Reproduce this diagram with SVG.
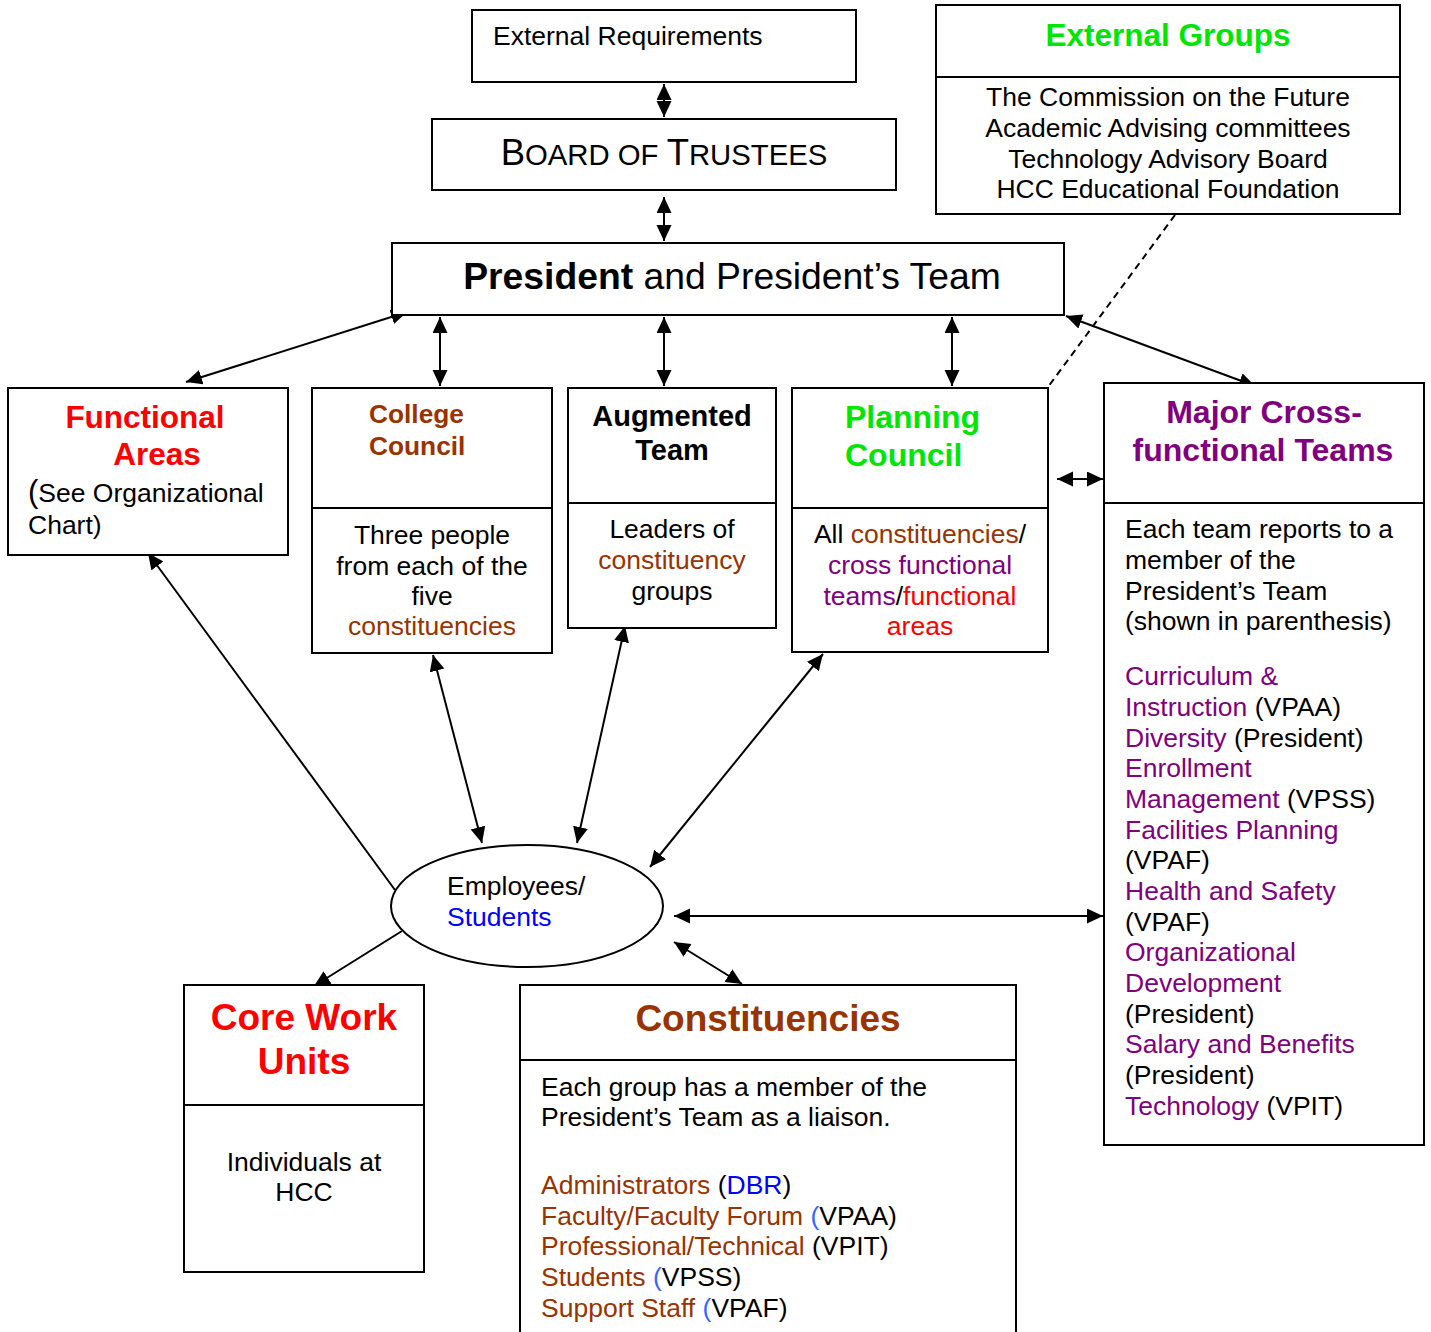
<svg xmlns="http://www.w3.org/2000/svg" width="1431" height="1332" viewBox="0 0 1431 1332">
<style>
  text { font-family: "Liberation Sans", Arial, sans-serif; font-size: 26.5px; fill: #000; }
  .box { fill: #fff; stroke: #000; stroke-width: 2; }
  .div { stroke: #000; stroke-width: 2; }
  .b { font-weight: bold; }
  .c { text-anchor: middle; }
  .red { fill: #FF0000; }
  .brown { fill: #993300; }
  .purple { fill: #800080; }
  .green { fill: #00E600; }
  .blue { fill: #0000FF; }
  .lblue { fill: #3366FF; }
  .conn { stroke: #000; stroke-width: 2; fill: none; }
</style>
<defs>
  <marker id="ah" markerUnits="userSpaceOnUse" markerWidth="18" markerHeight="16" refX="16" refY="7.5" orient="auto-start-reverse">
    <path d="M0,0 L16,7.5 L0,15 z" fill="#000"/>
  </marker>
</defs>
<rect width="1431" height="1332" fill="#fff"/>

<g id="connectors">
  <line class="conn" x1="664" y1="84" x2="664" y2="117" marker-start="url(#ah)" marker-end="url(#ah)"/>
  <line class="conn" x1="664" y1="197" x2="664" y2="241" marker-start="url(#ah)" marker-end="url(#ah)"/>
  <line class="conn" x1="407" y1="312" x2="186" y2="382" marker-start="url(#ah)" marker-end="url(#ah)"/>
  <line class="conn" x1="440" y1="317" x2="440" y2="386" marker-start="url(#ah)" marker-end="url(#ah)"/>
  <line class="conn" x1="664" y1="317" x2="664" y2="386" marker-start="url(#ah)" marker-end="url(#ah)"/>
  <line class="conn" x1="952" y1="317" x2="952" y2="386" marker-start="url(#ah)" marker-end="url(#ah)"/>
  <line class="conn" x1="1066" y1="316" x2="1255" y2="386" marker-start="url(#ah)" marker-end="url(#ah)"/>
  <line class="conn" x1="1057" y1="479" x2="1103" y2="479" marker-start="url(#ah)" marker-end="url(#ah)"/>
  <line class="conn" x1="395" y1="890" x2="148" y2="553" marker-end="url(#ah)"/>
  <line class="conn" x1="433" y1="655" x2="482" y2="843" marker-start="url(#ah)" marker-end="url(#ah)"/>
  <line class="conn" x1="625" y1="626" x2="577" y2="843" marker-start="url(#ah)" marker-end="url(#ah)"/>
  <line class="conn" x1="823" y1="654" x2="650" y2="867" marker-start="url(#ah)" marker-end="url(#ah)"/>
  <line class="conn" x1="402" y1="931" x2="314" y2="986" marker-end="url(#ah)"/>
  <line class="conn" x1="674" y1="942" x2="742" y2="984" marker-start="url(#ah)" marker-end="url(#ah)"/>
  <line class="conn" x1="674" y1="916" x2="1103" y2="916" marker-start="url(#ah)" marker-end="url(#ah)"/>
  <line class="conn" x1="1175" y1="215" x2="1048" y2="387" stroke-dasharray="7,5" stroke-width="1.5"/>
</g>

<g id="external-requirements">
  <rect class="box" x="472" y="10" width="384" height="72"/>
  <text x="493" y="45">External Requirements</text>
</g>

<g id="board-of-trustees">
  <rect class="box" x="432" y="119" width="464" height="71"/>
  <text x="664" y="165" class="c" style="font-size:29.3px"><tspan style="font-size:36.5px">B</tspan>OARD OF <tspan style="font-size:36.5px">T</tspan>RUSTEES</text>
</g>

<g id="external-groups">
  <rect class="box" x="936" y="5" width="464" height="209"/>
  <line class="div" x1="936" y1="77" x2="1400" y2="77"/>
  <text x="1168" y="46" class="c b green" style="font-size:31.5px">External Groups</text>
  <text x="1168" y="106" class="c">The Commission on the Future</text>
  <text x="1168" y="137" class="c">Academic Advising committees</text>
  <text x="1168" y="168" class="c">Technology Advisory Board</text>
  <text x="1168" y="198" class="c">HCC Educational Foundation</text>
</g>

<g id="president">
  <rect class="box" x="392" y="243" width="672" height="72"/>
  <text x="732" y="289" class="c" style="font-size:37.3px"><tspan class="b">President</tspan> and President’s Team</text>
</g>

<g id="functional-areas">
  <rect class="box" x="8" y="388" width="280" height="167"/>
  <text x="145" y="428" class="c b red" style="font-size:31.5px">Functional</text>
  <text x="157" y="465" class="c b red" style="font-size:31.5px">Areas</text>
  <text x="28" y="502"><tspan style="font-size:31px">(</tspan>See Organizational</text>
  <text x="28" y="534">Chart)</text>
</g>

<g id="college-council">
  <rect class="box" x="312" y="388" width="240" height="265"/>
  <line class="div" x1="312" y1="508" x2="552" y2="508"/>
  <text x="369" y="423" class="b brown" style="font-size:26.3px">College</text>
  <text x="369" y="455" class="b brown" style="font-size:26.3px">Council</text>
  <text x="432" y="544" class="c">Three people</text>
  <text x="432" y="575" class="c">from each of the</text>
  <text x="432" y="605" class="c">five</text>
  <text x="432" y="635" class="c brown">constituencies</text>
</g>

<g id="augmented-team">
  <rect class="box" x="568" y="388" width="208" height="240"/>
  <line class="div" x1="568" y1="503" x2="776" y2="503"/>
  <text x="672" y="426" class="c b" style="font-size:29px">Augmented</text>
  <text x="672" y="460" class="c b" style="font-size:29px">Team</text>
  <text x="672" y="538" class="c">Leaders of</text>
  <text x="672" y="569" class="c brown">constituency</text>
  <text x="672" y="600" class="c">groups</text>
</g>

<g id="planning-council">
  <rect class="box" x="792" y="388" width="256" height="264"/>
  <line class="div" x1="792" y1="508" x2="1048" y2="508"/>
  <text x="845" y="428" class="b green" style="font-size:32px">Planning</text>
  <text x="845" y="466" class="b green" style="font-size:32px">Council</text>
  <text x="920" y="543" class="c">All <tspan class="brown">constituencies</tspan>/</text>
  <text x="920" y="574" class="c purple">cross functional</text>
  <text x="920" y="605" class="c"><tspan class="purple">teams</tspan>/<tspan class="red">functional</tspan></text>
  <text x="920" y="635" class="c red">areas</text>
</g>

<g id="major-cross-functional-teams">
  <rect class="box" x="1104" y="383" width="320" height="762"/>
  <line class="div" x1="1104" y1="503" x2="1424" y2="503"/>
  <text x="1264" y="423" class="c b purple" style="font-size:32px">Major Cross-</text>
  <text x="1263" y="461" class="c b purple" style="font-size:32px">functional Teams</text>
  <text x="1125" y="538">Each team reports to a</text>
  <text x="1125" y="569">member of the</text>
  <text x="1125" y="600">President’s Team</text>
  <text x="1125" y="630">(shown in parenthesis)</text>
  <text x="1125" y="685" class="purple">Curriculum &amp;</text>
  <text x="1125" y="716"><tspan class="purple">Instruction</tspan> (VPAA)</text>
  <text x="1125" y="747"><tspan class="purple">Diversity</tspan> (President)</text>
  <text x="1125" y="777" class="purple">Enrollment</text>
  <text x="1125" y="808"><tspan class="purple">Management</tspan> (VPSS)</text>
  <text x="1125" y="839" class="purple">Facilities Planning</text>
  <text x="1125" y="869">(VPAF)</text>
  <text x="1125" y="900" class="purple">Health and Safety</text>
  <text x="1125" y="931">(VPAF)</text>
  <text x="1125" y="961" class="purple">Organizational</text>
  <text x="1125" y="992" class="purple">Development</text>
  <text x="1125" y="1023">(President)</text>
  <text x="1125" y="1053" class="purple">Salary and Benefits</text>
  <text x="1125" y="1084">(President)</text>
  <text x="1125" y="1115"><tspan class="purple">Technology</tspan> (VPIT)</text>
</g>

<g id="employees-students">
  <ellipse cx="527" cy="906" rx="136" ry="61" fill="#fff" stroke="#000" stroke-width="2"/>
  <text x="447" y="895">Employees/</text>
  <text x="447" y="926" class="blue">Students</text>
</g>

<g id="core-work-units">
  <rect class="box" x="184" y="985" width="240" height="287"/>
  <line class="div" x1="184" y1="1105" x2="424" y2="1105"/>
  <text x="304" y="1030" class="c b red" style="font-size:37px">Core Work</text>
  <text x="304" y="1074" class="c b red" style="font-size:37px">Units</text>
  <text x="304" y="1171" class="c">Individuals at</text>
  <text x="304" y="1201" class="c">HCC</text>
</g>

<g id="constituencies">
  <rect class="box" x="520" y="985" width="496" height="360"/>
  <line class="div" x1="520" y1="1060" x2="1016" y2="1060"/>
  <text x="768" y="1031" class="c b brown" style="font-size:37px">Constituencies</text>
  <text x="541" y="1096">Each group has a member of the</text>
  <text x="541" y="1126">President’s Team as a liaison.</text>
  <text x="541" y="1194"><tspan class="brown">Administrators</tspan> (<tspan class="blue">DBR</tspan>)</text>
  <text x="541" y="1225"><tspan class="brown">Faculty/Faculty Forum</tspan> <tspan class="lblue">(</tspan>VPAA)</text>
  <text x="541" y="1255"><tspan class="brown">Professional/Technical</tspan> (VPIT)</text>
  <text x="541" y="1286"><tspan class="brown">Students</tspan> <tspan class="lblue">(</tspan>VPSS)</text>
  <text x="541" y="1317"><tspan class="brown">Support Staff</tspan> <tspan class="lblue">(</tspan>VPAF)</text>
</g>
</svg>
